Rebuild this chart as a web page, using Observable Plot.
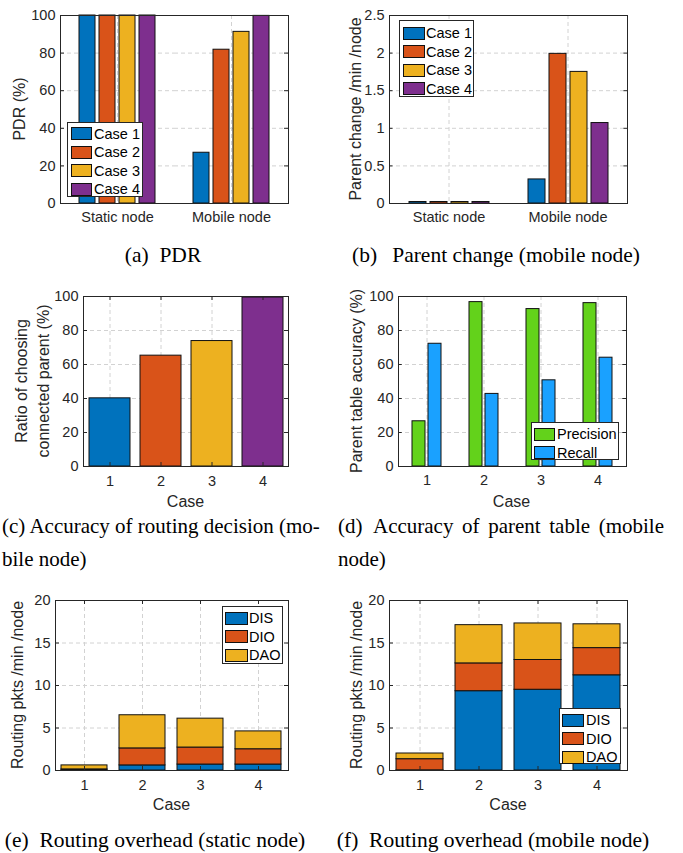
<!DOCTYPE html>
<html><head><meta charset="utf-8">
<script src="https://cdn.jsdelivr.net/npm/d3@7"></script>
<script src="https://cdn.jsdelivr.net/npm/@observablehq/plot@0.6"></script>
<style>
body{margin:0;background:#fff;}
#fig{position:relative;width:683px;height:853px;background:#fff;overflow:hidden;font-family:"Liberation Sans",Arial,sans-serif;color:#262626;}
.panel{position:absolute;}
.ylab{position:absolute;transform:translate(-50%,-50%) rotate(-90deg);white-space:nowrap;font-size:16px;text-align:center;line-height:21.5px;}
.xlab{position:absolute;transform:translate(-50%,-50%);font-size:16px;white-space:nowrap;}
.cap{position:absolute;font-family:"Liberation Serif","Times New Roman",serif;font-size:21px;color:#000;white-space:nowrap;line-height:33px;}
.capc{transform:translate(-50%,-50%);font-size:21.5px;}
.just{text-align:justify;text-align-last:justify;}
.legend{position:absolute;background:#fff;border:1px solid #262626;box-sizing:border-box;}
.sw{position:absolute;border:1px solid #111;box-sizing:border-box;}
.lt{position:absolute;font-size:14.5px;transform:translateY(-50%);white-space:nowrap;line-height:1;color:#000;}
</style></head>
<body><div id="fig"></div>
<script>
// ---------- data ----------
const groups = ["Static node", "Mobile node"];
const cases = ["Case 1", "Case 2", "Case 3", "Case 4"];
const caseColors = ["#0072BD", "#D95319", "#EDB120", "#7E2F8E"];

const pdrStatic = [100, 100, 100, 100];
const pdrMobile = [27, 81.8, 91.3, 99.8];
const pdrTicks = [0, 20, 40, 60, 80, 100];

const pcStatic = [0.02, 0.02, 0.02, 0.02];
const pcMobile = [0.32, 1.99, 1.75, 1.07];
const pcTicks = [0, 0.5, 1, 1.5, 2, 2.5];

const caseIds = ["1", "2", "3", "4"];
const connectedRatio = [40.1, 65.2, 73.8, 99.4];
const pctTicks = [0, 20, 40, 60, 80, 100];

const metrics = ["Precision", "Recall"];
const metricColors = ["#63D21B", "#1AA1FF"];
const precision = [26.6, 96.7, 92.6, 96.1];
const recall = [72.2, 42.7, 50.7, 64.0];

const msgTypes = ["DIS", "DIO", "DAO"];
const staticDIS = [0.03, 0.6, 0.7, 0.7];
const staticDIO = [0.1, 2.0, 2.0, 1.8];
const staticDAO = [0.47, 3.9, 3.4, 2.1];
const mobileDIS = [0.02, 9.33, 9.5, 11.2];
const mobileDIO = [1.31, 3.27, 3.5, 3.2];
const mobileDAO = [0.67, 4.5, 4.3, 2.8];
const overheadTicks = [0, 5, 10, 15, 20];

// ---------- tables ----------
const pdrTable = groups.flatMap((g, gi) => cases.map((c, ci) => ({group: g, key: c, value: [pdrStatic, pdrMobile][gi][ci]})));
const pcTable = groups.flatMap((g, gi) => cases.map((c, ci) => ({group: g, key: c, value: [pcStatic, pcMobile][gi][ci]})));
const ratioTable = caseIds.map((c, i) => ({key: c, value: connectedRatio[i]}));
const accTable = caseIds.flatMap((c, i) => metrics.map((m, mi) => ({group: c, key: m, value: [precision, recall][mi][i]})));
const ohStatic = caseIds.flatMap((c, i) => msgTypes.map((t, ti) => ({key: c, type: t, value: [staticDIS, staticDIO, staticDAO][ti][i]})));
const ohMobile = caseIds.flatMap((c, i) => msgTypes.map((t, ti) => ({key: c, type: t, value: [mobileDIS, mobileDIO, mobileDAO][ti][i]})));

// ---------- helpers ----------
const fig = document.getElementById("fig");
const baseStyle = {fontFamily: '"Liberation Sans", Arial, sans-serif', fontSize: "14.5px", color: "#262626", background: "transparent", overflow: "visible"};
const gridStyle = {stroke: "#d2d2d2", strokeOpacity: 1, strokeDasharray: "4,3"};
const edge = {stroke: "#111", strokeWidth: 1};
const TICK = 4;
const numFmt = d => String(d);

function place(node, left, top) {
  const d = document.createElement("div");
  d.className = "panel";
  d.style.left = left + "px"; d.style.top = top + "px";
  d.appendChild(node); fig.appendChild(d);
}
function addDiv(cls, html, styles) {
  const d = document.createElement("div");
  d.className = cls; d.innerHTML = html;
  Object.assign(d.style, styles); fig.appendChild(d); return d;
}
function legend(left, top, w, h, items, colors, first, step, swLeft, swW, txtLeft) {
  const box = addDiv("legend", "", {left: left + "px", top: top + "px", width: w + "px", height: h + "px"});
  items.forEach((it, i) => {
    const cy = first + i * step;
    const sw = document.createElement("div");
    sw.className = "sw";
    Object.assign(sw.style, {left: swLeft + "px", top: (cy - 6.5) + "px", width: swW + "px", height: "13px", background: colors[i]});
    box.appendChild(sw);
    const t = document.createElement("div");
    t.className = "lt"; t.textContent = it;
    Object.assign(t.style, {left: txtLeft + "px", top: cy + "px"});
    box.appendChild(t);
  });
}
// inward MATLAB-style ticks on the box edges
function yTickMarks(yTicks, fw, faceted) {
  const o = {stroke: "#262626", strokeWidth: 1, y: d => d};
  return [
    Plot.tickY(yTicks, {...o, insetRight: fw - TICK, ...(faceted ? {facetAnchor: "left"} : {})}),
    Plot.tickY(yTicks, {...o, insetLeft: fw - TICK, ...(faceted ? {facetAnchor: "right"} : {})})
  ];
}
function xTickMarks(keys, fh) {
  const o = {stroke: "#262626", strokeWidth: 1, x: d => d};
  return [
    Plot.tickX(keys, {...o, insetTop: fh - TICK}),
    Plot.tickX(keys, {...o, insetBottom: fh - TICK})
  ];
}

function grouped({table, groupDomain, keyDomain, colors, yDomain, yTicks, width, height, ml, mr, mt, mb}) {
  const fw = (width - ml - mr) / groupDomain.length;
  return Plot.plot({
    width, height, marginLeft: ml, marginRight: mr, marginTop: mt, marginBottom: mb,
    style: baseStyle,
    fx: {domain: groupDomain, padding: 0, label: null, axis: "bottom", tickSize: 0, tickPadding: 8},
    x: {domain: keyDomain, axis: null, paddingInner: 0.2, paddingOuter: 0.85},
    y: {domain: yDomain, ticks: yTicks, tickFormat: numFmt, label: null, tickSize: 0, tickPadding: 5},
    color: {domain: keyDomain, range: colors},
    marks: [
      Plot.gridY(yTicks, gridStyle),
      Plot.gridFx(gridStyle),
      Plot.barY(table, {fx: "group", x: "key", y: "value", fill: "key", ...edge}),
      ...yTickMarks(yTicks, fw, true),
      Plot.frame({facet: "super", stroke: "#262626"})
    ]
  });
}
function simple({table, keyDomain, yDomain, yTicks, width, height, ml, mr, mt, mb, fill, colorDomain, colors}) {
  const fw = width - ml - mr, fh = height - mt - mb;
  return Plot.plot({
    width, height, marginLeft: ml, marginRight: mr, marginTop: mt, marginBottom: mb,
    style: baseStyle,
    x: {domain: keyDomain, label: null, paddingInner: 0.2, paddingOuter: 0.1, tickSize: 0, tickPadding: 9},
    y: {domain: yDomain, ticks: yTicks, tickFormat: numFmt, label: null, tickSize: 0, tickPadding: 5},
    color: {domain: colorDomain, range: colors},
    marks: [
      Plot.gridY(yTicks, gridStyle),
      Plot.gridX(keyDomain, gridStyle),
      Plot.barY(table, {x: "key", y: "value", fill, ...edge}),
      ...yTickMarks(yTicks, fw, false),
      ...xTickMarks(keyDomain, fh),
      Plot.frame({stroke: "#262626"})
    ]
  });
}

// (a) PDR
place(grouped({table: pdrTable, groupDomain: groups, keyDomain: cases, colors: caseColors,
  yDomain: [0, 100], yTicks: pdrTicks, width: 340, height: 240, ml: 60, mr: 52, mt: 15, mb: 37}), 0, 0);
// (b) parent change
place(grouped({table: pcTable, groupDomain: groups, keyDomain: cases, colors: caseColors,
  yDomain: [0, 2.5], yTicks: pcTicks, width: 343, height: 240, ml: 48, mr: 56, mt: 15, mb: 37}), 340, 0);
// (c) routing decision accuracy
place(simple({table: ratioTable, keyDomain: caseIds, yDomain: [0, 100], yTicks: pctTicks,
  width: 340, height: 240, ml: 83, mr: 52, mt: 16, mb: 54, fill: "key", colorDomain: caseIds, colors: caseColors}), 0, 280);
// (d) parent table accuracy
place(grouped({table: accTable, groupDomain: caseIds, keyDomain: metrics, colors: metricColors,
  yDomain: [0, 100], yTicks: pctTicks, width: 343, height: 240, ml: 57, mr: 57, mt: 16, mb: 54}), 340, 280);
// (e) overhead static
place(simple({table: ohStatic, keyDomain: caseIds, yDomain: [0, 20], yTicks: overheadTicks,
  width: 340, height: 230, ml: 55, mr: 52, mt: 15, mb: 45, fill: "type", colorDomain: msgTypes, colors: caseColors.slice(0, 3)}), 0, 585);
// (f) overhead mobile
place(simple({table: ohMobile, keyDomain: caseIds, yDomain: [0, 20], yTicks: overheadTicks,
  width: 343, height: 230, ml: 49, mr: 56, mt: 15, mb: 45, fill: "type", colorDomain: msgTypes, colors: caseColors.slice(0, 3)}), 340, 585);

// axis titles
addDiv("ylab", "PDR (%)", {left: "20px", top: "109px"});
addDiv("ylab", "Parent change /min /node", {left: "356px", top: "109px"});
addDiv("ylab", "Ratio of choosing<br>connected parent (%)", {left: "32px", top: "381px"});
addDiv("ylab", "Parent table accuracy (%)", {left: "357px", top: "381px"});
addDiv("ylab", "Routing pkts /min /node", {left: "18px", top: "685px"});
addDiv("ylab", "Routing pkts /min /node", {left: "357px", top: "685px"});
addDiv("xlab", "Case", {left: "185.5px", top: "502px"});
addDiv("xlab", "Case", {left: "511.5px", top: "502px"});
addDiv("xlab", "Case", {left: "171.5px", top: "805px"});
addDiv("xlab", "Case", {left: "508px", top: "805px"});

// legends
legend(67, 122, 76, 75, cases, caseColors, 10.5, 18.5, 3, 21, 26);
legend(399, 20, 75, 77, cases, caseColors, 12, 18.5, 3, 22, 26);
legend(531, 422, 88, 38, metrics, metricColors, 11, 18.5, 2, 21, 25);
legend(222, 606, 61, 58, msgTypes, caseColors, 11, 18.5, 2, 23, 26);
legend(559, 708, 62, 56, msgTypes, caseColors, 11, 18.5, 2, 22, 26);

// captions
addDiv("cap capc", "(a)&ensp;PDR", {left: "163px", top: "255px"});
addDiv("cap capc", "(b)&ensp;&thinsp;Parent change (mobile node)", {left: "496px", top: "255px"});
addDiv("cap", "(c) Accuracy of routing decision (mo-", {left: "2px", top: "510px"});
addDiv("cap", "bile node)", {left: "2px", top: "543px"});
addDiv("cap just", "(d)&ensp;Accuracy of parent table (mobile", {left: "338px", top: "510px", width: "326px"});
addDiv("cap", "node)", {left: "338px", top: "543px"});
addDiv("cap capc", "(e)&ensp;Routing overhead (static node)", {left: "155px", top: "840px"});
addDiv("cap capc", "(f)&ensp;Routing overhead (mobile node)", {left: "493px", top: "840px"});
</script></body></html>
